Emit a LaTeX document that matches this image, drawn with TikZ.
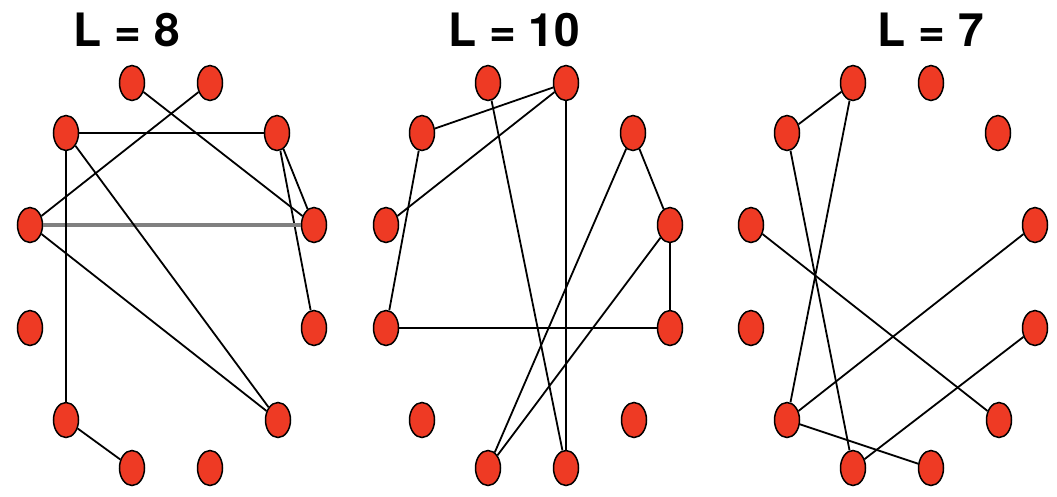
\documentclass[tikz,border=0pt]{standalone}
\usepackage{fontspec}
\setmainfont{TeX Gyre Heros}
\definecolor{knoop}{HTML}{EE3A24}
\tikzset{
  dot/.style={ellipse, draw=black, line width=1.5pt, fill=knoop,
    minimum width=25pt, minimum height=35pt, inner sep=0pt},
  link/.style={line width=1.8pt},
  titel/.style={font=\bfseries\fontsize{46}{46}\selectfont}
}
\usetikzlibrary{shapes.geometric}
\begin{document}
\begin{tikzpicture}[x=1pt, y=-1pt]

  % Kader
  \useasboundingbox (0,0) rectangle (1057,496);

  % Knopen in drie ringen
  \foreach \p/\dx in {a/0, b/356, c/721} {
    \foreach \i/\x/\y in {1/132/83, 2/210/83, 3/277/133, 4/314/225,
                          5/314/328, 6/278/420, 7/210/468, 8/132/468,
                          9/66/420, 10/30/328, 11/30/225, 12/66/133}
      \node[dot] (\p\i) at (\x+\dx,\y) {};
  }

  % Titels
  \node[titel] (ta) at (127,30) {L = 8};
  \node[titel] (tb) at (514,30) {L = 10};
  \node[titel] (tc) at (931,30) {L = 7};

  % Ring a
  \draw[link] (a1) -- (a4);
  \draw[link] (a2) -- (a11);
  \draw[link] (a12) -- (a3);
  \draw[link] (a3) -- (a4);
  \draw[link] (a3) -- (a5);
  \draw[link, gray, line width=3.2pt] (a11) -- (a4);
  \draw[link] (a11) -- (a6);
  \draw[link] (a12) -- (a6);
  \draw[link, line width=1.2pt] (a12) -- (a9);
  \draw[link] (a9) -- (a8);

  % Ring b
  \draw[link] (b2) -- (b12);
  \draw[link] (b2) -- (b11);
  \draw[link] (b2) -- (b7);
  \draw[link] (b1) -- (b7);
  \draw[link] (b12) -- (b10);
  \draw[link] (b10) -- (b5);
  \draw[link] (b3) -- (b4);
  \draw[link] (b3) -- (b8);
  \draw[link] (b4) -- (b8);
  \draw[link] (b4) -- (b5);

  % Ring c
  \draw[link] (c1) -- (c12);
  \draw[link] (c1) -- (c9);
  \draw[link] (c12) -- (c8);
  \draw[link] (c11) -- (c6);
  \draw[link] (c9) -- (c4);
  \draw[link] (c9) -- (c7);
  \draw[link] (c8) -- (c5);

\end{tikzpicture}
\end{document}
